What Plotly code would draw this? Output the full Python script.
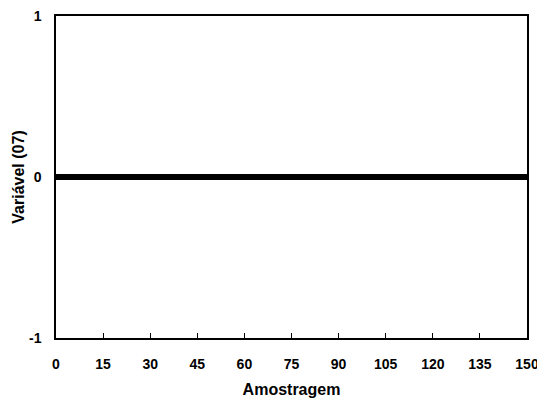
import plotly.graph_objects as go

x_vals = list(range(0, 151))
y_vals = [0] * 151
x_ticks = [0, 15, 30, 45, 60, 75, 90, 105, 120, 135, 150]
y_ticks = [-1, 0, 1]

fig = go.Figure()
fig.add_trace(go.Scatter(
    x=x_vals, y=y_vals, mode="lines+markers",
    line=dict(color="black", width=5),
    marker=dict(color="black", size=6, symbol="square"),
    showlegend=False,
))

font = dict(family="Liberation Sans, Arial, sans-serif", size=14, color="black")
tfont = dict(family="Liberation Sans, Arial, sans-serif", size=16, color="black")
fig.update_layout(
    width=537, height=393,
    margin=dict(l=48, r=18, t=8, b=63),
    paper_bgcolor="white", plot_bgcolor="white",
    font=font,
)
fig.update_xaxes(
    range=[0, 150], tickvals=x_ticks, ticktext=[f"<b>{t}</b>" for t in x_ticks],
    ticks="inside", ticklen=5, tickcolor="black", tickwidth=1,
    showline=True, linecolor="black", linewidth=1.5, mirror=True,
    showgrid=False, zeroline=False, automargin=False, ticklabelstandoff=12,
    ticklabeloverflow="allow",
    title=dict(text="<b>Amostragem</b>", standoff=13, font=tfont),
)
fig.update_yaxes(
    range=[-1, 1], tickvals=y_ticks, ticktext=[f"<b>{t}</b>" for t in y_ticks],
    ticks="", showline=True, linecolor="black", linewidth=1.5, mirror=True,
    showgrid=False, zeroline=False, ticklabelstandoff=10, automargin=False,
    ticklabeloverflow="allow",
    title=dict(text="<b>Variável (07)</b>", standoff=0, font=tfont),
)
fig.write_html("out.html")
